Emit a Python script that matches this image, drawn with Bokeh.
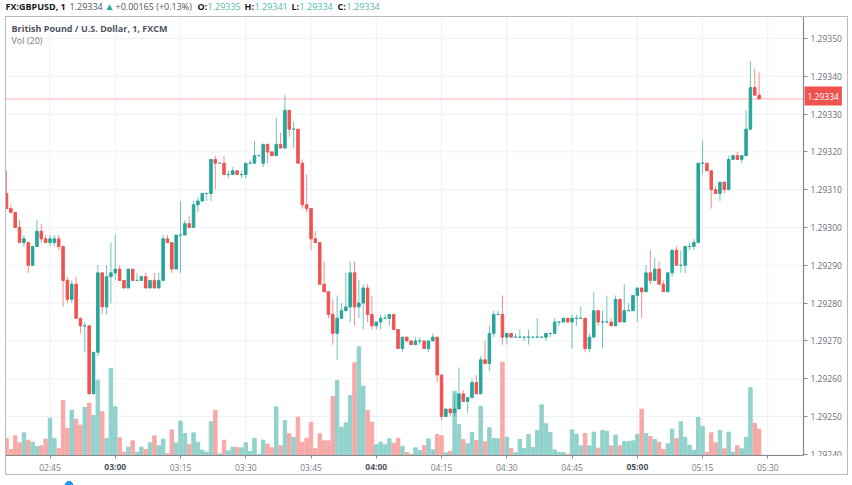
from bokeh.embed import file_html
from bokeh.resources import INLINE
from bokeh.plotting import figure
from bokeh.models import (ColumnDataSource, Range1d, FixedTicker, Label, Span, LinearAxis, InlineStyleSheet)

# Prices are stored as points above 1.29000 (1 point = 0.00001)
open_pts = [309,305,304,300,296,296,290,295,299,297,296,296,297,295,286,281,285,276,274,274,256,267,288,279,287,288,289,286,284,289,
 286,286,287,284,286,284,286,297,296,289,298,298,301,300,306,307,309,309,318,317,317,314,314,315,314,314,317,317,319,317,
 322,320,319,322,321,331,326,326,317,306,305,297,296,285,283,277,272,276,278,279,288,279,280,284,277,274,275,276,276,277,
 273,268,271,270,269,270,270,268,270,271,261,250,252,251,252,256,254,255,259,256,265,264,272,277,277,271,272,271,271,271,
 271,271,271,271,271,272,272,275,275,276,275,276,276,276,268,271,278,275,275,275,274,281,275,278,278,282,284,283,288,286,
 289,285,283,288,294,290,290,295,295,296,317,317,315,310,309,312,310,318,319,318,319,326,337,335]
high_pts = [315,306,304,302,298,296,295,302,301,298,298,298,298,295,287,286,287,276,275,274,267,290,288,290,296,298,290,286,289,289,
 288,287,288,286,288,288,298,298,296,298,307,302,303,307,308,309,309,318,319,317,319,315,316,315,315,317,318,323,319,322,
 322,320,329,325,335,331,328,326,318,314,305,299,296,291,283,281,282,280,288,291,291,286,285,285,282,275,277,277,277,277,
 273,271,271,270,271,271,270,270,272,271,261,252,252,256,263,257,255,260,261,266,270,274,278,278,282,272,272,272,273,271,
 273,271,276,271,272,272,276,275,276,276,277,277,279,276,272,283,278,278,282,276,282,281,285,280,282,284,284,290,294,292,
 291,286,288,294,295,294,295,296,297,317,323,317,315,311,312,312,319,319,320,319,331,344,342,341]
low_pts = [305,304,300,296,295,288,290,295,296,296,295,295,294,279,280,280,276,272,267,256,256,266,277,277,280,286,286,284,284,286,
 286,286,284,284,284,284,286,296,288,289,288,298,300,300,304,307,307,307,310,317,314,313,314,314,313,313,317,317,319,316,
 317,319,319,321,321,324,321,317,305,304,294,296,285,283,276,269,265,276,278,275,274,276,273,275,273,273,273,276,274,273,
 268,267,270,269,269,269,268,267,270,259,249,250,250,250,252,254,251,255,256,256,264,262,271,277,269,269,271,271,271,270,
 269,271,271,271,270,271,272,274,275,275,268,274,276,267,267,271,274,268,275,274,274,275,275,278,278,275,276,283,285,286,
 285,283,283,287,290,288,288,294,294,296,314,315,305,309,307,309,310,318,318,317,319,326,335,334]
close_pts = [305,304,300,296,297,290,295,299,297,296,297,297,295,286,281,285,276,274,274,256,267,288,279,287,288,289,286,284,289,286,
 286,287,284,286,284,286,297,296,289,298,298,301,300,306,307,309,309,318,317,317,314,314,315,314,314,317,317,319,319,322,
 320,319,322,321,331,326,326,317,306,305,297,296,285,283,277,272,276,278,279,288,279,280,284,277,274,275,276,276,277,273,
 268,271,270,269,270,270,268,270,271,261,250,252,251,252,256,254,255,259,256,265,264,272,277,277,271,272,271,271,271,271,
 271,271,271,271,272,272,275,275,276,275,276,276,276,268,271,278,275,275,275,274,281,275,278,278,282,284,283,288,286,289,
 285,283,288,294,290,290,295,295,296,317,317,315,310,309,312,310,318,319,318,319,326,337,335,334]
volume = [51,18,59,38,68,46,40,27,29,49,112,51,21,165,81,136,109,91,144,157,120,226,131,51,261,146,53,10,25,44,
 10,25,18,38,59,29,49,6,77,38,103,66,34,68,40,16,10,101,136,5,46,14,25,25,23,38,12,51,3,46,
 34,23,146,29,105,65,55,115,40,52,100,20,65,44,44,177,225,85,98,180,278,326,208,135,100,32,40,32,50,37,
 52,28,9,4,23,15,30,50,17,63,59,8,13,193,93,48,35,69,45,148,41,83,51,50,280,55,21,8,48,21,
 63,24,75,152,95,69,17,9,9,4,77,64,29,66,29,70,22,75,73,29,61,29,42,42,44,64,139,66,57,48,
 40,18,35,79,51,101,55,31,16,114,88,10,68,38,75,20,70,10,29,20,55,203,96,79]

price_ticks = [1.2935, 1.2934, 1.2933, 1.2932, 1.2931, 1.2930, 1.2929, 1.2928, 1.2927, 1.2926, 1.2925, 1.2924]
time_tick_minutes = [10, 25, 40, 55, 70, 85, 100, 115, 130, 145, 160, 175]
time_tick_labels = ["02:45", "03:00", "03:15", "03:30", "03:45", "04:00", "04:15", "04:30", "04:45", "05:00", "05:15", "05:30"]
hour_labels = {"03:00", "04:00", "05:00"}
last_price = 1.29334

UP, DOWN = "#26a69a", "#ef5350"
UP_V, DOWN_V = "#92d2cc", "#f7a9a7"
GRID = "#edf2f6"
BORDER = "#b8bbc2"
AXIS = "#85888f"
FONT = "Open Sans"
W, H = 852, 485
# The header labels live in a tall panel above the frame; the canvas is lifted so that only
# its lower part (the 852x485 picture) is on the page.
LIFT = 184

minute = list(range(len(open_pts)))
o = [1.29 + v / 1e5 for v in open_pts]
h = [1.29 + v / 1e5 for v in high_pts]
l = [1.29 + v / 1e5 for v in low_pts]
c = [1.29 + v / 1e5 for v in close_pts]
is_up = [b >= a for a, b in zip(o, c)]
src = ColumnDataSource(dict(
    x=minute, high=h, low=l,
    top=[max(a, b) for a, b in zip(o, c)],
    bottom=[min(a, b) for a, b in zip(o, c)],
    vol=volume,
    color=[UP if u else DOWN for u in is_up],
    vcolor=[UP_V if u else DOWN_V for u in is_up],
))

css = f"""
:host::after {{
  content: ""; position: absolute; left: 5px; top: {16 + LIFT}px; width: 841px; height: 457px;
  border: 1px solid {BORDER}; pointer-events: none; z-index: 5;
}}
:host::before {{
  content: ""; position: absolute; left: 0; top: {LIFT}px; width: 852px; height: 485px;
  pointer-events: none; z-index: 4;
  background:
    linear-gradient(#fff, #fff) 804px 456px / 42px 17px no-repeat,
    radial-gradient(circle 4px at 69px 485px, #2196f3 96%, transparent) no-repeat;
}}
"""

p = figure(width=W, height=H + LIFT, output_backend="svg", toolbar_location=None,
           x_range=Range1d(-0.23, 183.2), y_range=Range1d(1.292397, 1.293558),
           min_border_left=5, min_border_right=W - 803, min_border_top=16 + LIFT, min_border_bottom=H - 455,
           x_axis_location=None, y_axis_location=None, margin=(-LIFT, 0, 0, 0),
           stylesheets=[InlineStyleSheet(css=css)])
p.extra_y_ranges = {"vol": Range1d(0, 1317)}
p.outline_line_color = None

xaxis = LinearAxis(ticker=FixedTicker(ticks=time_tick_minutes),
                   major_label_overrides={m: ("" if t in hour_labels else t) for m, t in zip(time_tick_minutes, time_tick_labels)})
xaxis.axis_line_color = AXIS
xaxis.major_tick_line_color = AXIS
xaxis.major_tick_out = 3
xaxis.major_tick_in = 0
xaxis.minor_tick_line_color = None
xaxis.major_label_text_font = FONT
xaxis.major_label_text_font_size = "8.5px"
xaxis.major_label_text_color = "#787b86"
xaxis.major_label_standoff = 3
p.add_layout(xaxis, "below")

yaxis = LinearAxis(ticker=FixedTicker(ticks=price_ticks),
                   major_label_overrides={t: f"{t:.5f}" for t in price_ticks})
yaxis.axis_line_color = AXIS
yaxis.axis_line_width = 1.2
yaxis.major_tick_line_color = AXIS
yaxis.major_tick_out = 4
yaxis.major_tick_in = 0
yaxis.minor_tick_line_color = None
yaxis.major_label_text_font = FONT
yaxis.major_label_text_font_size = "8.5px"
yaxis.major_label_text_color = "#6a6d78"
yaxis.major_label_standoff = 3
p.add_layout(yaxis, "right")

p.xgrid.visible = False
p.ygrid.visible = False
for tm in time_tick_minutes:
    p.add_layout(Span(location=tm, dimension="height", line_color=GRID, line_width=1, level="underlay"))
for pr in price_ticks:
    p.add_layout(Span(location=pr, dimension="width", line_color=GRID, line_width=1, level="underlay"))

p.vbar(x="x", top="vol", bottom=0, width=0.8, color="vcolor", y_range_name="vol", source=src)
p.segment(x0="x", x1="x", y0="low", y1="high", line_color="color", line_width=1, line_alpha=0.65, source=src)
p.vbar(x="x", top="top", bottom="bottom", width=0.58, fill_color="color", line_color="color", line_width=1, source=src)

p.add_layout(Span(location=last_price, dimension="width", line_color=DOWN, line_width=1,
                  line_dash=[1, 1], line_alpha=0.9))

def txt(x, y, text, color, size="9px", bold=False, place="above", **kw):
    p.add_layout(Label(x=x, y=y + LIFT, x_units="canvas", y_units="canvas", text=text, text_color=color,
                       text_font=FONT, text_font_size=size, text_font_style="bold" if bold else "normal",
                       text_align="left", text_baseline="middle", **kw), place)

# price tag
txt(804, 95.5, "1.29334", "#ffffff", size="8.5px", background_fill_color=DOWN, padding=(3, 6))

# bold hour labels
for tm, t in zip(time_tick_minutes, time_tick_labels):
    if t in hour_labels:
        p.add_layout(Label(x=tm, y=466 + LIFT, x_units="data", y_units="canvas", text=t, text_color="#50535e",
                           text_font=FONT, text_font_size="8.5px", text_font_style="bold",
                           text_align="center", text_baseline="middle"), "above")

# header
txt(5, 6, "FX:GBPUSD, 1", "#131722", bold=True)
txt(69, 6, "1.29334", "#50535e")
txt(104, 5.5, "\u25b2", UP, size="10px")
txt(115, 6, "+0.00165 (+0.13%)", "#50535e")
for lx, lab, vx, val in ((197, "O:", 207, "1.29335"), (244, "H:", 254, "1.29341"),
                         (291, "L:", 299, "1.29334"), (337, "C:", 346, "1.29334")):
    txt(lx, 6, lab, "#131722", bold=True)
    txt(vx, 6, val, "#53b9ae")

# legend
txt(11, 28, "British Pound / U.S. Dollar, 1, FXCM", "#50535e", bold=True, place="center")
txt(11, 40, "Vol (20)", "#787b86", place="center")

open("out.html", "w").write(file_html(p, INLINE))
